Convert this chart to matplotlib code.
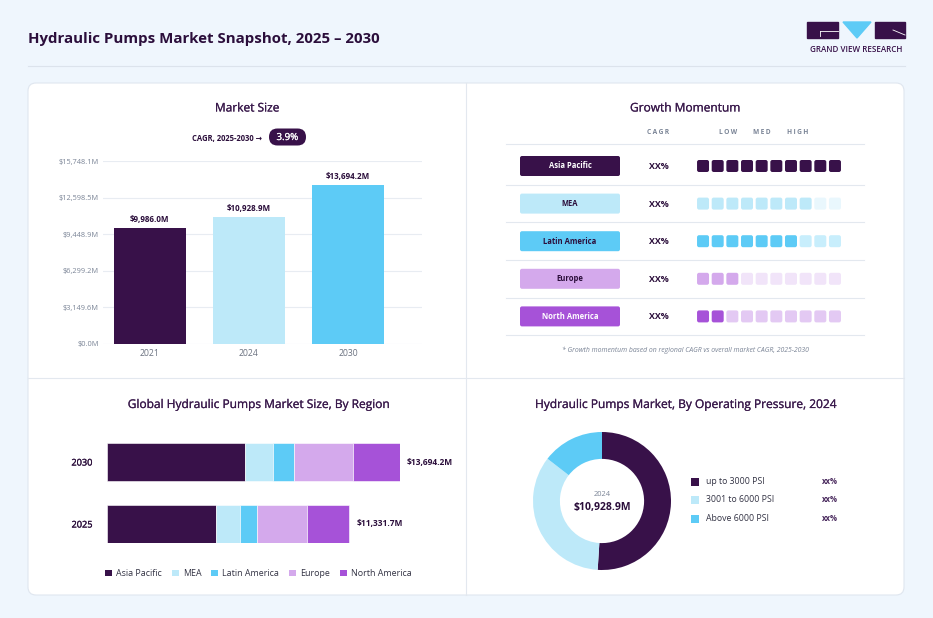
import matplotlib
matplotlib.use("Agg")
import matplotlib.pyplot as plt
import matplotlib.patheffects as pe
from matplotlib.patches import FancyBboxPatch, Rectangle, Polygon, Patch

plt.rcParams['font.family'] = ['Open Sans', 'DejaVu Sans']

# ---- data ----
years = ['2021', '2024', '2030']
market_size = [9986.0, 10928.9, 13694.2]
y_ticks = [0.0, 3149.6, 6299.2, 9448.9, 12598.5, 15748.1]
cagr = '3.9%'

regions = ['Asia Pacific', 'MEA', 'Latin America', 'Europe', 'North America']
momentum = [10, 8, 7, 3, 2]          # filled squares out of 10
momentum_cagr = ['XX%', 'XX%', 'XX%', 'XX%', 'XX%']

stack_years = ['2030', '2025']
stack_values = {
    'Asia Pacific': [6450.0, 5109.0],
    'MEA': [1310.0, 1108.0],
    'Latin America': [980.0, 795.0],
    'Europe': [2755.0, 2351.0],
    'North America': [2199.2, 1968.7],
}
stack_totals = ['$13,694.2M', '$11,331.7M']

pressure = ['up to 3000 PSI', '3001 to 6000 PSI', 'Above 6000 PSI']
pressure_share = [51.0, 34.5, 14.5]
pressure_text = ['xx%', 'xx%', 'xx%']
donut_total = '$10,928.9M'

# ---- colours ----
DARK = '#381149'
TXT = '#2B0E3B'
GREY = '#7A8496'
region_col = ['#381149', '#BDE9F9', '#5DCBF6', '#D4A9EC', '#A652D8']
region_faint = ['#381149', '#E9F7FD', '#C8EEFC', '#F1E4F9', '#E3C9F3']
pill_txt = ['white', TXT, TXT, TXT, 'white']
pressure_col = ['#381149', '#BDE9F9', '#5DCBF6']

W, H = 933, 618
fig = plt.figure(figsize=(W / 100, H / 100), dpi=100)
fig.patch.set_facecolor('#EFF6FD')

bg = fig.add_axes([0, 0, 1, 1])
bg.set_xlim(0, W)
bg.set_ylim(H, 0)
bg.axis('off')


def px_axes(x0, y0, x1, y1):
    return fig.add_axes([x0 / W, 1 - y1 / H, (x1 - x0) / W, (y1 - y0) / H])


# regular weight plus a hairline stroke ~ a "medium" weight
MEDIUM = [pe.withStroke(linewidth=0.15, foreground='#3A1A4C')]
TITLE = dict(fontsize=8.6, color='#3A1A4C', ha='center', va='center', path_effects=MEDIUM)

# header
bg.text(28, 39, 'Hydraulic Pumps Market Snapshot, 2025 \u2013 2030', fontsize=10.8,
        fontweight='bold', color=TXT, va='center', ha='left')
bg.plot([28, 905], [65.5, 65.5], color='#DCE3EC', lw=0.8)

# logo
bg.add_patch(Rectangle((807, 22), 31, 16, color=DARK))
bg.plot([820, 838], [30.5, 30.5], color='white', lw=0.6)
bg.plot([820, 820], [30.5, 36], color='white', lw=0.6)
bg.add_patch(Polygon([(843, 22), (871, 22), (857, 38)], color='#5DCBF6'))
bg.add_patch(Rectangle((875, 22), 30, 16, color=DARK))
bg.plot([893, 905], [30, 35], color='white', lw=0.6)
bg.text(856, 49, 'GRAND VIEW RESEARCH', fontsize=5.8, fontweight='semibold', color=DARK,
        ha='center', va='center')

# card
bg.add_patch(FancyBboxPatch((28, 83), 876, 512, boxstyle='round,pad=0,rounding_size=8',
                            facecolor='white', edgecolor='#DFE6EF', lw=0.8))
bg.plot([466, 466], [83, 595], color='#E3E8EF', lw=0.8)
bg.plot([28, 904], [378, 378], color='#E3E8EF', lw=0.8)

# ---- Market size ----
bg.text(247, 108, 'Market Size', **TITLE)
bg.text(262, 138, 'CAGR, 2025-2030 \u2192', fontsize=5.5, fontweight='bold', color=TXT,
        ha='right', va='center')
bg.add_patch(FancyBboxPatch((269, 128.5), 37, 17, boxstyle='round,pad=0,rounding_size=8.5',
                            facecolor=DARK, edgecolor='none'))
bg.text(287.5, 137.5, cagr, fontsize=7, color='white', ha='center', va='center',
        path_effects=[pe.withStroke(linewidth=0.15, foreground='white')])

ax = px_axes(102.7, 161.3, 422.3, 343.7)
xs = range(len(years))
ax.bar(xs, market_size, width=0.727, color=region_col[:3], zorder=3)
ax.set_xlim(-0.475, 2.75)
ax.set_ylim(0, y_ticks[-1])
ax.set_yticks(y_ticks)
ax.set_yticklabels([f'${v:,.1f}M' for v in y_ticks])
ax.set_xticks(list(xs))
ax.set_xticklabels(years)
ax.grid(axis='y', color='#E8ECF2', lw=0.8, zorder=0)
for s in ax.spines.values():
    s.set_visible(False)
ax.tick_params(axis='y', length=0, pad=2.7, labelsize=5.3, labelcolor=GREY)
ax.tick_params(axis='x', length=0, pad=3.5, labelsize=6.2, labelcolor='#6B7280')
ax.set_facecolor('none')
for x, v in zip(xs, market_size):
    ax.annotate(f'${v:,.1f}M', (x, v), xytext=(0, 6.5), textcoords='offset points',
                ha='center', va='center', fontsize=5.8, fontweight='bold', color=TXT)

# ---- Growth momentum ----
bg.text(685, 108, 'Growth Momentum', **TITLE)
for lab, x in [('C A G R', 657.7), ('L O W', 728), ('M E D', 762), ('H I G H', 798)]:
    bg.text(x, 132.5, lab.replace(' ', '\u2009'), fontsize=4.8, fontweight='bold', color=GREY,
            ha='center', va='center')
row0, pitch = 166, 37.6
line_ys = [144.3] + [row0 + (i + 0.5) * pitch for i in range(len(regions))]
for ly in line_ys:
    bg.plot([506, 864], [ly, ly], color='#E3E8EF', lw=0.8)
for i, reg in enumerate(regions):
    cy = row0 + i * pitch
    bg.add_patch(FancyBboxPatch((520, cy - 10), 100, 20, boxstyle='round,pad=0,rounding_size=2',
                                facecolor=region_col[i], edgecolor='none'))
    bg.text(570, cy, reg, fontsize=5.5, fontweight='bold', color=pill_txt[i],
            ha='center', va='center')
    bg.text(658.7, cy + 0.5, momentum_cagr[i], fontsize=6.4, fontweight='bold', color=TXT,
            ha='center', va='center')

gx = px_axes(695.7, row0 - pitch / 2, 842.3, row0 + (len(regions) - 0.5) * pitch)
gx.set_xlim(-0.5, 9.5)
gx.set_ylim(len(regions) - 0.5, -0.5)
gx.axis('off')
sw, sh = 12 / 14.67, 12 / pitch
for i, n in enumerate(momentum):
    for j in range(10):
        c = region_col[i] if j < n else region_faint[i]
        gx.add_patch(FancyBboxPatch((j - sw / 2, i - sh / 2), sw, sh,
                                    boxstyle='round,pad=0,rounding_size=0.14',
                                    mutation_aspect=0.39, facecolor=c, edgecolor='none'))
bg.text(685, 350.5, '* Growth momentum based on regional CAGR vs overall market CAGR, 2025-2030',
        fontsize=4.95, style='italic', color=GREY, ha='center', va='center')

# ---- stacked bars by region ----
bg.text(258, 404.5, 'Global Hydraulic Pumps Market Size, By Region', **TITLE)
ax2 = px_axes(107, 443, 400, 543)
ax2.set_xlim(0, sum(v[0] for v in stack_values.values()))
ax2.set_ylim(1.3065, -0.3065)
left = [0.0, 0.0]
handles = []
for i, reg in enumerate(regions):
    vals = stack_values[reg]
    ax2.barh([0, 1], vals, left=left, height=0.613, color=region_col[i],
             edgecolor='white', lw=0.4)
    left = [l + v for l, v in zip(left, vals)]
    handles.append(Patch(facecolor=region_col[i], label=reg))
for k, tot in enumerate(left):
    ax2.annotate(stack_totals[k], (tot, k), xytext=(5, 0), textcoords='offset points',
                 ha='left', va='center', fontsize=6.0, fontweight='bold', color=TXT,
                 annotation_clip=False)
ax2.set_yticks([0, 1])
ax2.set_yticklabels(stack_years)
ax2.set_xticks([])
ax2.tick_params(axis='y', length=0, pad=10.5, labelsize=6.6, labelcolor=TXT)
for t in ax2.get_yticklabels():
    t.set_path_effects([pe.withStroke(linewidth=0.2, foreground=TXT)])
for s in ax2.spines.values():
    s.set_visible(False)
ax2.set_facecolor('none')
fig.legend(handles=handles, loc='center', bbox_to_anchor=(258.5 / W, 1 - 573.5 / H), ncol=5,
           frameon=False, fontsize=6.4, handlelength=0.8, handleheight=0.8,
           handletextpad=0.45, columnspacing=1.1, labelcolor='#333344')

# ---- donut ----
bg.text(685, 404.5, 'Hydraulic Pumps Market, By Operating Pressure, 2024', **TITLE)
ax3 = px_axes(533, 432, 671, 570)
ax3.pie(pressure_share, colors=pressure_col, startangle=90, counterclock=False, radius=1,
        wedgeprops=dict(width=0.39, edgecolor='none'))
ax3.set_xlim(-1, 1)
ax3.set_ylim(-1, 1)
ax3.text(0, 0.09, '2024', fontsize=5.4, color=GREY, ha='center', va='center')
ax3.text(0, -0.1, donut_total, fontsize=7.5, fontweight='bold', color=TXT, ha='center', va='center')
for i, lab in enumerate(pressure):
    cy = 481.5 + i * 18.5
    bg.add_patch(Rectangle((691, cy - 4), 8, 8, facecolor=pressure_col[i], edgecolor='none'))
    bg.text(706, cy, lab, fontsize=6.3, color='#333344', ha='left', va='center')
    bg.text(830, cy, pressure_text[i], fontsize=5.6, fontweight='bold', color='#4A2A5E',
            ha='center', va='center')

fig.savefig('out.png', dpi=100, facecolor=fig.get_facecolor())
